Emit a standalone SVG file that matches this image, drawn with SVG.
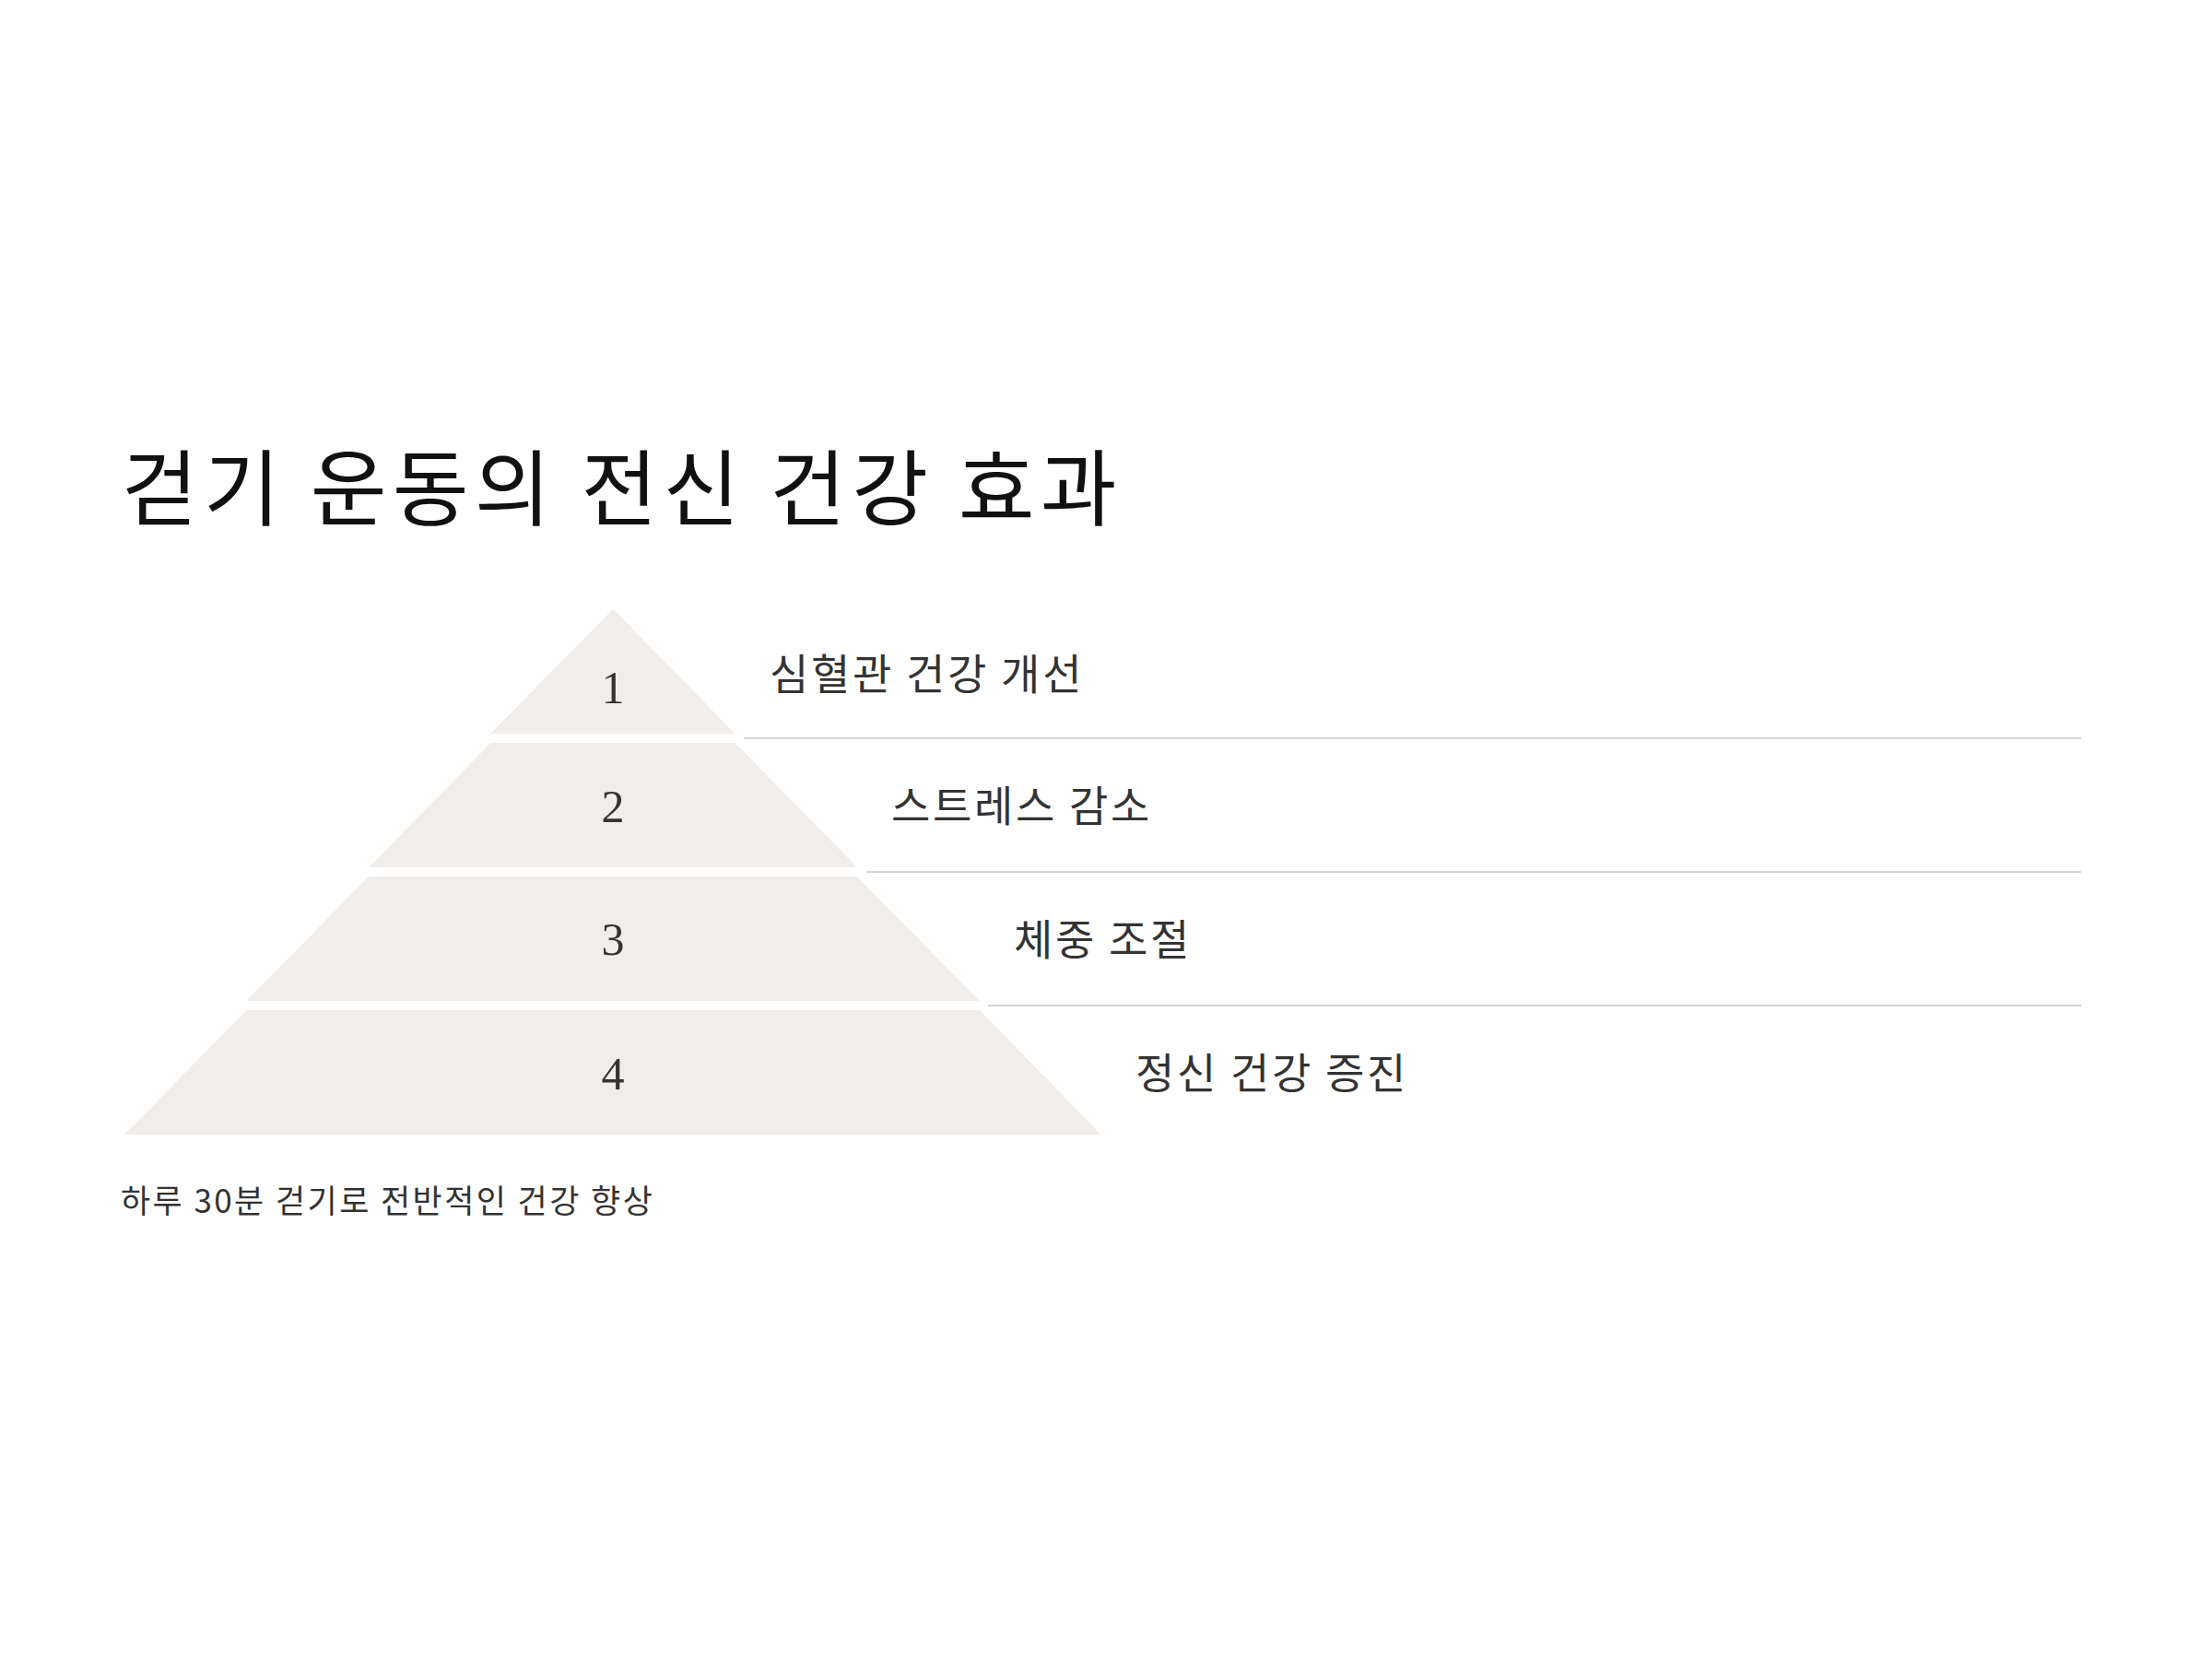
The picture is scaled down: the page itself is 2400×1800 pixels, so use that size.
<svg xmlns="http://www.w3.org/2000/svg" width="2400" height="1800" viewBox="0 0 2400 1800">
  <style>
    .tier { fill: #F0EDEB; }
    .num { font-family: "Liberation Serif", "DejaVu Serif", serif; font-size: 50px; fill: #333333; text-anchor: middle; }
    .label { font-family: "Noto Sans CJK KR", "Noto Sans", sans-serif; font-size: 46px; fill: #333333; letter-spacing: 2.7px; }
    .title { font-family: "Noto Sans CJK KR", "Noto Sans", sans-serif; font-size: 90px; fill: #111111; letter-spacing: 6.3px; }
    .sub { font-family: "Noto Sans CJK KR", "Noto Sans", sans-serif; font-size: 35px; fill: #333333; letter-spacing: 2.4px; }
    .sep { stroke: #D6D4D4; stroke-width: 2; fill: none; }
  </style>
  <rect width="2400" height="1800" fill="#FFFFFF"/>
  <text id="title" class="title" x="132" y="563">걷기 운동의 전신 건강 효과</text>

  <g id="separators">
    <line class="sep" x1="807" y1="801" x2="2258" y2="801"/>
    <line class="sep" x1="940" y1="946" x2="2258" y2="946"/>
    <line class="sep" x1="1072" y1="1091" x2="2258" y2="1091"/>
  </g>

  <g id="tier1">
    <polygon class="tier" points="665,661 797.5,796 532.5,796"/>
    <text class="num" x="665" y="763">1</text>
    <text class="label" x="835" y="748">심혈관 건강 개선</text>
  </g>
  <g id="tier2">
    <polygon class="tier" points="532.5,806 797.5,806 930,941 400,941"/>
    <text class="num" x="665" y="892">2</text>
    <text class="label" x="967" y="891">스트레스 감소</text>
  </g>
  <g id="tier3">
    <polygon class="tier" points="400,951 930,951 1062.5,1086 267.5,1086"/>
    <text class="num" x="665" y="1036">3</text>
    <text class="label" x="1100" y="1036">체중 조절</text>
  </g>
  <g id="tier4">
    <polygon class="tier" points="267.5,1096 1062.5,1096 1195,1231 135,1231"/>
    <text class="num" x="665" y="1182">4</text>
    <text class="label" x="1232" y="1181">정신 건강 증진</text>
  </g>

  <text id="subtitle" class="sub" x="131" y="1316">하루 30분 걷기로 전반적인 건강 향상</text>
</svg>
